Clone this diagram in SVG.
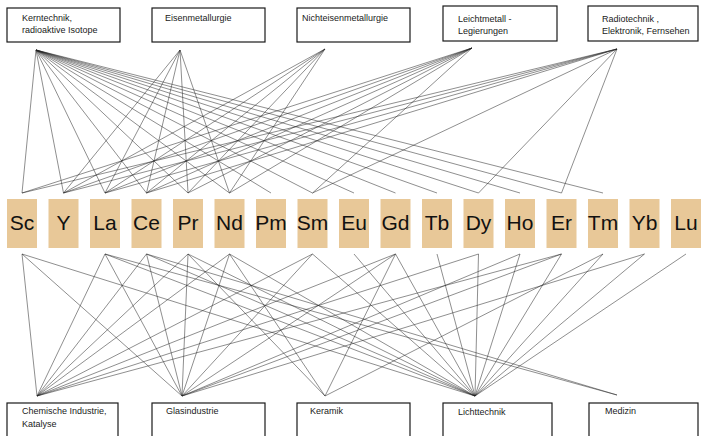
<svg xmlns="http://www.w3.org/2000/svg" width="701" height="436" viewBox="0 0 701 436">
<style>
.box{fill:#fff;stroke:#1a1a1a;stroke-width:1.2}
.lbl{font-family:"Liberation Sans",Arial,sans-serif;font-size:9px;fill:#1a1a1a}
.el{fill:#e8c898}
.sym{font-family:"Liberation Sans",Arial,sans-serif;font-size:21px;fill:#111;text-anchor:middle}
.c line{stroke:#222;stroke-width:0.6;stroke-opacity:0.85}
</style>
<rect width="701" height="436" fill="#fff"/>
<g class="c" id="connectors">
<!-- Kerntechnik -->
<line x1="36" y1="50" x2="22" y2="193"/><line x1="36" y1="50" x2="63.5" y2="193"/><line x1="36" y1="50" x2="105" y2="193"/><line x1="36" y1="50" x2="146.5" y2="193"/><line x1="36" y1="50" x2="188" y2="193"/><line x1="36" y1="50" x2="229.5" y2="193"/><line x1="36" y1="50" x2="271" y2="193"/><line x1="36" y1="50" x2="312.5" y2="193"/><line x1="36" y1="50" x2="354" y2="193"/><line x1="36" y1="50" x2="395.5" y2="193"/><line x1="36" y1="50" x2="437" y2="193"/><line x1="36" y1="50" x2="478.5" y2="193"/><line x1="36" y1="50" x2="520" y2="193"/><line x1="36" y1="50" x2="561.5" y2="193"/><line x1="36" y1="50" x2="603" y2="193"/>
<!-- Eisenmetallurgie -->
<line x1="180" y1="50" x2="63.5" y2="193"/><line x1="180" y1="50" x2="105" y2="193"/><line x1="180" y1="50" x2="146.5" y2="193"/><line x1="180" y1="50" x2="188" y2="193"/><line x1="180" y1="50" x2="229.5" y2="193"/>
<!-- Nichteisenmetallurgie -->
<line x1="325" y1="49" x2="63.5" y2="193"/><line x1="325" y1="49" x2="105" y2="193"/><line x1="325" y1="49" x2="146.5" y2="193"/><line x1="325" y1="49" x2="188" y2="193"/><line x1="325" y1="49" x2="229.5" y2="193"/>
<!-- Leichtmetall -->
<line x1="472" y1="48" x2="22" y2="193"/><line x1="472" y1="48" x2="63.5" y2="193"/><line x1="472" y1="48" x2="105" y2="193"/><line x1="472" y1="48" x2="146.5" y2="193"/><line x1="472" y1="48" x2="188" y2="193"/><line x1="472" y1="48" x2="229.5" y2="193"/><line x1="472" y1="48" x2="312.5" y2="193"/>
<!-- Radiotechnik -->
<line x1="617" y1="49" x2="22" y2="193"/><line x1="617" y1="49" x2="63.5" y2="193"/><line x1="617" y1="49" x2="105" y2="193"/><line x1="617" y1="49" x2="146.5" y2="193"/><line x1="617" y1="49" x2="312.5" y2="193"/><line x1="617" y1="49" x2="478.5" y2="193"/><line x1="617" y1="49" x2="561.5" y2="193"/>
<!-- Chemische Industrie -->
<line x1="37" y1="396" x2="22" y2="254"/><line x1="37" y1="396" x2="105" y2="254"/><line x1="37" y1="396" x2="146.5" y2="254"/><line x1="37" y1="396" x2="188" y2="254"/><line x1="37" y1="396" x2="229.5" y2="254"/><line x1="37" y1="396" x2="312.5" y2="254"/><line x1="37" y1="396" x2="395.5" y2="254"/><line x1="37" y1="396" x2="478.5" y2="254"/><line x1="37" y1="396" x2="561.5" y2="254"/>
<!-- Glasindustrie -->
<line x1="182" y1="396" x2="22" y2="254"/><line x1="182" y1="396" x2="105" y2="254"/><line x1="182" y1="396" x2="146.5" y2="254"/><line x1="182" y1="396" x2="188" y2="254"/><line x1="182" y1="396" x2="229.5" y2="254"/><line x1="182" y1="396" x2="312.5" y2="254"/><line x1="182" y1="396" x2="395.5" y2="254"/><line x1="182" y1="396" x2="520" y2="254"/><line x1="182" y1="396" x2="561.5" y2="254"/><line x1="182" y1="396" x2="644.5" y2="254"/>
<!-- Keramik -->
<line x1="325" y1="396" x2="188" y2="254"/><line x1="325" y1="396" x2="229.5" y2="254"/><line x1="325" y1="396" x2="395.5" y2="254"/><line x1="325" y1="396" x2="603" y2="254"/>
<!-- Lichttechnik -->
<line x1="475" y1="396" x2="22" y2="254"/><line x1="475" y1="396" x2="105" y2="254"/><line x1="475" y1="396" x2="146.5" y2="254"/><line x1="475" y1="396" x2="188" y2="254"/><line x1="475" y1="396" x2="229.5" y2="254"/><line x1="475" y1="396" x2="312.5" y2="254"/><line x1="475" y1="396" x2="354" y2="254"/><line x1="475" y1="396" x2="395.5" y2="254"/><line x1="475" y1="396" x2="437" y2="254"/><line x1="475" y1="396" x2="478.5" y2="254"/><line x1="475" y1="396" x2="520" y2="254"/><line x1="475" y1="396" x2="561.5" y2="254"/><line x1="475" y1="396" x2="603" y2="254"/><line x1="475" y1="396" x2="644.5" y2="254"/><line x1="475" y1="396" x2="686" y2="254"/>
<!-- Medizin -->
<line x1="617" y1="395" x2="105" y2="254"/><line x1="617" y1="395" x2="146.5" y2="254"/>
</g>
<g id="top-kern"><rect class="box" x="7" y="8" width="113" height="34"/><text class="lbl" x="22" y="21">Kerntechnik,</text><text class="lbl" x="22" y="33">radioaktive Isotope</text></g>
<g id="top-eisen"><rect class="box" x="152" y="8" width="113" height="34"/><text class="lbl" x="165" y="21">Eisenmetallurgie</text></g>
<g id="top-nichteisen"><rect class="box" x="297" y="8" width="113" height="34"/><text class="lbl" x="302" y="21">Nichteisenmetallurgie</text></g>
<g id="top-leicht"><rect class="box" x="443" y="6" width="114" height="35"/><text class="lbl" x="458" y="22">Leichtmetall -</text><text class="lbl" x="458" y="34">Legierungen</text></g>
<g id="top-radio"><rect class="box" x="588" y="6" width="110" height="35"/><text class="lbl" x="602" y="22">Radiotechnik ,</text><text class="lbl" x="602" y="34">Elektronik, Fernsehen</text></g>
<g id="el-Sc"><rect class="el" x="7" y="199" width="30" height="49"/><text class="sym" x="22" y="230">Sc</text></g>
<g id="el-Y"><rect class="el" x="48.5" y="199" width="30" height="49"/><text class="sym" x="63.5" y="230">Y</text></g>
<g id="el-La"><rect class="el" x="90" y="199" width="30" height="49"/><text class="sym" x="105" y="230">La</text></g>
<g id="el-Ce"><rect class="el" x="131.5" y="199" width="30" height="49"/><text class="sym" x="146.5" y="230">Ce</text></g>
<g id="el-Pr"><rect class="el" x="173" y="199" width="30" height="49"/><text class="sym" x="188" y="230">Pr</text></g>
<g id="el-Nd"><rect class="el" x="214.5" y="199" width="30" height="49"/><text class="sym" x="229.5" y="230">Nd</text></g>
<g id="el-Pm"><rect class="el" x="256" y="199" width="30" height="49"/><text class="sym" x="271" y="230">Pm</text></g>
<g id="el-Sm"><rect class="el" x="297.5" y="199" width="30" height="49"/><text class="sym" x="312.5" y="230">Sm</text></g>
<g id="el-Eu"><rect class="el" x="339" y="199" width="30" height="49"/><text class="sym" x="354" y="230">Eu</text></g>
<g id="el-Gd"><rect class="el" x="380.5" y="199" width="30" height="49"/><text class="sym" x="395.5" y="230">Gd</text></g>
<g id="el-Tb"><rect class="el" x="422" y="199" width="30" height="49"/><text class="sym" x="437" y="230">Tb</text></g>
<g id="el-Dy"><rect class="el" x="463.5" y="199" width="30" height="49"/><text class="sym" x="478.5" y="230">Dy</text></g>
<g id="el-Ho"><rect class="el" x="505" y="199" width="30" height="49"/><text class="sym" x="520" y="230">Ho</text></g>
<g id="el-Er"><rect class="el" x="546.5" y="199" width="30" height="49"/><text class="sym" x="561.5" y="230">Er</text></g>
<g id="el-Tm"><rect class="el" x="588" y="199" width="30" height="49"/><text class="sym" x="603" y="230">Tm</text></g>
<g id="el-Yb"><rect class="el" x="629.5" y="199" width="30" height="49"/><text class="sym" x="644.5" y="230">Yb</text></g>
<g id="el-Lu"><rect class="el" x="671" y="199" width="30" height="49"/><text class="sym" x="686" y="230">Lu</text></g>
<g id="bot-chem"><rect class="box" x="7" y="403" width="111" height="40"/><text class="lbl" x="22" y="414">Chemische Industrie,</text><text class="lbl" x="22" y="427">Katalyse</text></g>
<g id="bot-glas"><rect class="box" x="152" y="403" width="113" height="40"/><text class="lbl" x="166" y="414">Glasindustrie</text></g>
<g id="bot-keramik"><rect class="box" x="297" y="403" width="113" height="40"/><text class="lbl" x="310" y="414">Keramik</text></g>
<g id="bot-licht"><rect class="box" x="443" y="403" width="109" height="40"/><text class="lbl" x="458" y="415">Lichttechnik</text></g>
<g id="bot-medizin"><rect class="box" x="589" y="403" width="109" height="40"/><text class="lbl" x="605" y="414">Medizin</text></g>
</svg>
